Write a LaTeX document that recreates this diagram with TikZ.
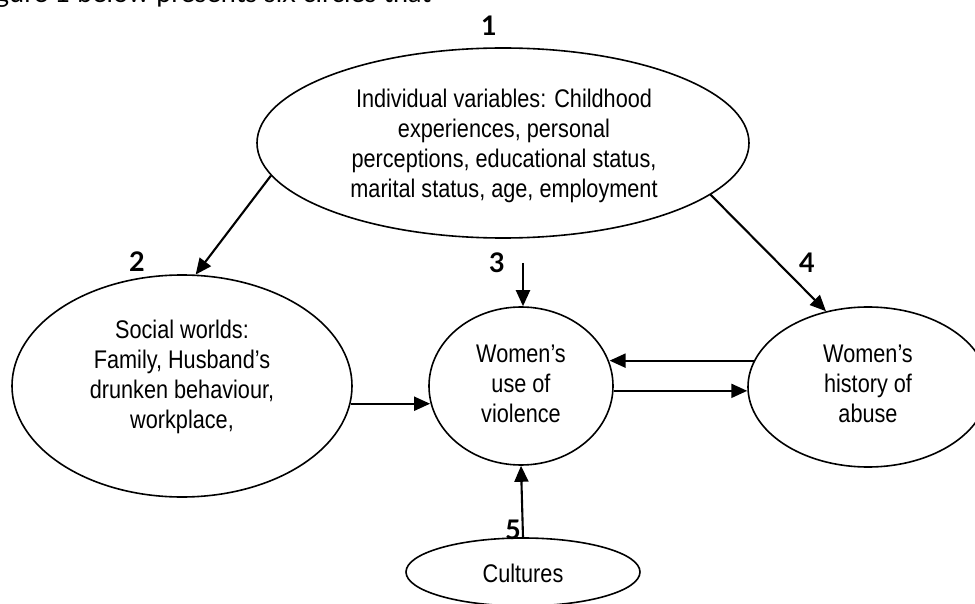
\documentclass[tikz,border=0pt]{standalone}
\usepackage{fontspec}
\setmainfont{Liberation Sans}
\newfontfamily\ovalfont[FakeStretch=0.85]{Liberation Sans}
\newfontfamily\numfont{Lato}
\usetikzlibrary{shapes.geometric,arrows.meta}
\begin{document}
\begin{tikzpicture}[x=1pt,y=-1pt,
  oval/.style={draw, ellipse, line width=1.6pt, inner sep=0pt},
  txt/.style={align=center, inner sep=0pt, font=\ovalfont\fontsize{25.5}{30}\selectfont},
  conn/.style={line width=2.1pt, -{Triangle[length=16pt,width=14pt]}},
  num/.style={font=\numfont\bfseries\fontsize{27}{27}\selectfont, inner sep=0pt}]
\useasboundingbox (0,0) rectangle (975,604);
\clip (0,0) rectangle (975,604);
% partial heading line cut off at the top
\node[anchor=base west, inner sep=0pt, font=\numfont\fontsize{27}{27}\selectfont] (head) at (-5,3) {gure 1 below presents six circles that};
% ovals
\node[oval, minimum width=492pt, minimum height=190pt] (e1) at (503,143) {};
\node[oval, minimum width=340pt, minimum height=222pt] (e2) at (182,386) {};
\node[oval, minimum width=184pt, minimum height=158pt] (e3) at (521,386) {};
\node[oval, minimum width=240pt, minimum height=160pt] (e4) at (868,387) {};
\node[oval, minimum width=234pt, minimum height=68pt] (e5) at (523,572) {};
% oval texts
\node[txt] (t1) at (504,146)
  {Individual variables: Childhood\\experiences, personal\\perceptions, educational status,\\marital status, age, employment};
\node[txt] (t2) at (182,377)
  {Social worlds:\\Family, Husband’s\\drunken behaviour,\\workplace,};
\node[txt] (t3) at (521,384) {Women’s\\use of\\violence};
\node[txt] (t4) at (868,384) {Women’s\\history of\\abuse};
\node[txt] (t5) at (523,573) {Cultures};
% numbers
\node[num] (n1) at (489,26) {1};
\node[num] (n2) at (137,262) {2};
\node[num] (n3) at (497,263) {3};
\node[num] (n4) at (807,263) {4};
\node[num] (n5) at (513,530) {5};
\coordinate (top3) at (523,263);
% connectors
\draw[conn] (e1.188.5) -- (e2.83.4);
\draw[conn] (e1.346.5) -- (e4.119.3);
\draw[conn] (top3) -- (top3 |- e3.north);
\draw[conn] (e2.354.2) -- (e2.354.2 -| e3.190.7);
\draw[conn] (e4.167.6) -- (e4.167.6 -| e3.15.3);
\draw[conn] (e3.357.4) -- (e3.357.4 -| e4.181.4);
\draw[conn] (e5.north) -- (e3.south);
\end{tikzpicture}
\end{document}
